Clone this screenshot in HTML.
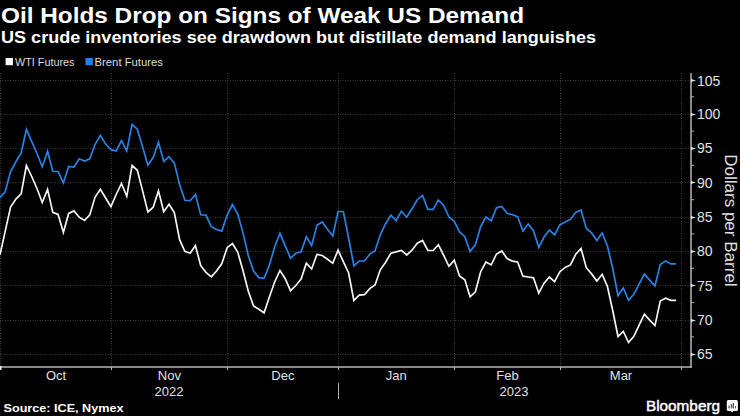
<!DOCTYPE html>
<html><head><meta charset="utf-8">
<style>
html,body{margin:0;padding:0;background:#000;width:740px;height:416px;overflow:hidden}
svg{display:block}
text{font-family:"Liberation Sans",sans-serif}
.t{font-weight:bold;font-size:22.5px;fill:#fff}
.st{font-weight:bold;font-size:17px;fill:#fff}
.lg{font-size:11.5px;fill:#ddd}
.g{stroke:#3c3c3c;stroke-width:1;stroke-dasharray:1 1.5}
.ax{stroke:#b4b4b4;stroke-width:1.5}
.tk{fill:#e0e0e0}
.mt{stroke:#b4b4b4;stroke-width:1}
.yl{font-size:14px;fill:#e0e0e0}
.xl{font-size:13px;fill:#e0e0e0;text-anchor:middle}
.yt{font-size:16px;fill:#e0e0e0;text-anchor:middle}
.s{fill:none;stroke-width:1.7;stroke-linejoin:miter;stroke-linecap:butt}
.w{stroke:#f4f4f4}
.b{stroke:#2a81e2}
.src{font-weight:bold;font-size:11.5px;fill:#fff}
.bb{font-size:15.2px;fill:#fff;stroke:#fff;stroke-width:0.45px}
</style></head><body>
<svg width="740" height="416" viewBox="0 0 740 416">
<text x="1" y="22.8" class="t" textLength="523" lengthAdjust="spacingAndGlyphs">Oil Holds Drop on Signs of Weak US Demand</text>
<text x="1" y="42.6" class="st" textLength="595" lengthAdjust="spacingAndGlyphs">US crude inventories see drawdown but distillate demand languishes</text>
<rect x="5.6" y="58" width="7.3" height="7.2" fill="#fff"/>
<text x="15" y="65.6" class="lg" textLength="59.5" lengthAdjust="spacingAndGlyphs">WTI Futures</text>
<rect x="85.5" y="58" width="7.3" height="7.2" fill="#1f84f0"/>
<text x="94.5" y="65.6" class="lg" textLength="68.5" lengthAdjust="spacingAndGlyphs">Brent Futures</text>
<line x1="0" y1="354.5" x2="691" y2="354.5" class="g"/>
<line x1="0" y1="320.5" x2="691" y2="320.5" class="g"/>
<line x1="0" y1="285.5" x2="691" y2="285.5" class="g"/>
<line x1="0" y1="251.5" x2="691" y2="251.5" class="g"/>
<line x1="0" y1="217.5" x2="691" y2="217.5" class="g"/>
<line x1="0" y1="182.5" x2="691" y2="182.5" class="g"/>
<line x1="0" y1="148.5" x2="691" y2="148.5" class="g"/>
<line x1="0" y1="114.5" x2="691" y2="114.5" class="g"/>
<line x1="0" y1="80.5" x2="691" y2="80.5" class="g"/>
<line x1="0.5" y1="73" x2="0.5" y2="367" class="g"/>
<line x1="111.5" y1="73" x2="111.5" y2="367" class="g"/>
<line x1="227.5" y1="73" x2="227.5" y2="367" class="g"/>
<line x1="338.5" y1="73" x2="338.5" y2="367" class="g"/>
<line x1="454.5" y1="73" x2="454.5" y2="367" class="g"/>
<line x1="560.5" y1="73" x2="560.5" y2="367" class="g"/>
<line x1="681.5" y1="73" x2="681.5" y2="367" class="g"/>
<line x1="691" y1="73" x2="691" y2="367.75" class="ax"/>
<line x1="0" y1="367" x2="691.75" y2="367" class="ax"/>
<path d="M691,352.9 L696,354.5 L691,356.1Z" class="tk"/>
<text x="697" y="359.2" class="yl">65</text>
<path d="M691,318.9 L696,320.5 L691,322.1Z" class="tk"/>
<text x="697" y="324.9" class="yl">70</text>
<path d="M691,283.9 L696,285.5 L691,287.1Z" class="tk"/>
<text x="697" y="290.6" class="yl">75</text>
<path d="M691,249.9 L696,251.5 L691,253.1Z" class="tk"/>
<text x="697" y="256.3" class="yl">80</text>
<path d="M691,215.9 L696,217.5 L691,219.1Z" class="tk"/>
<text x="697" y="222.0" class="yl">85</text>
<path d="M691,180.9 L696,182.5 L691,184.1Z" class="tk"/>
<text x="697" y="187.7" class="yl">90</text>
<path d="M691,146.9 L696,148.5 L691,150.1Z" class="tk"/>
<text x="697" y="153.4" class="yl">95</text>
<path d="M691,112.9 L696,114.5 L691,116.1Z" class="tk"/>
<text x="697" y="119.1" class="yl">100</text>
<path d="M691,78.9 L696,80.5 L691,82.1Z" class="tk"/>
<text x="697" y="86.2" class="yl">105</text>
<line x1="691" y1="336.9" x2="694" y2="336.9" class="mt"/>
<line x1="691" y1="302.6" x2="694" y2="302.6" class="mt"/>
<line x1="691" y1="268.2" x2="694" y2="268.2" class="mt"/>
<line x1="691" y1="233.9" x2="694" y2="233.9" class="mt"/>
<line x1="691" y1="199.7" x2="694" y2="199.7" class="mt"/>
<line x1="691" y1="165.3" x2="694" y2="165.3" class="mt"/>
<line x1="691" y1="131.1" x2="694" y2="131.1" class="mt"/>
<line x1="691" y1="96.8" x2="694" y2="96.8" class="mt"/>
<line x1="111.5" y1="367" x2="111.5" y2="370" class="mt"/>
<line x1="227.5" y1="367" x2="227.5" y2="370" class="mt"/>
<line x1="338.5" y1="367" x2="338.5" y2="370" class="mt"/>
<line x1="454.5" y1="367" x2="454.5" y2="370" class="mt"/>
<line x1="560.5" y1="367" x2="560.5" y2="370" class="mt"/>
<line x1="681.5" y1="367" x2="681.5" y2="370" class="mt"/>
<rect x="0" y="366" width="1.5" height="4" fill="#eee"/>
<text x="56.0" y="380.2" class="xl">Oct</text>
<text x="169.4" y="380.2" class="xl">Nov</text>
<text x="282.9" y="380.2" class="xl">Dec</text>
<text x="396.2" y="380.2" class="xl">Jan</text>
<text x="507.5" y="380.2" class="xl">Feb</text>
<text x="621.0" y="380.2" class="xl">Mar</text>
<text x="169" y="395.6" class="xl">2022</text>
<text x="514" y="395.6" class="xl">2023</text>
<line x1="338.5" y1="383" x2="338.5" y2="399" class="mt" />
<polyline points="0.00,254.7 5.28,230.9 10.56,207.1 15.85,199.1 21.13,193.9 26.41,165.5 31.69,176.5 36.97,188.5 42.26,202.5 47.54,189.4 52.82,212.4 58.10,214.5 63.38,232.5 68.67,213.4 73.95,210.9 79.23,217.2 84.51,220.5 89.79,214.9 95.08,197.0 100.36,189.3 105.64,198.0 110.92,206.7 116.20,194.5 121.49,183.5 126.77,196.3 132.05,165.5 137.33,170.3 142.61,190.9 147.90,212.0 153.18,207.2 158.46,190.9 163.74,211.7 169.02,204.3 174.31,212.5 179.59,239.7 184.87,251.3 190.15,253.2 195.43,245.5 200.72,265.7 206.00,272.3 211.28,276.9 216.56,271.0 221.84,263.5 227.13,247.7 232.41,243.5 237.69,252.0 242.97,270.5 248.25,291.0 253.54,306.0 258.82,309.2 264.10,312.8 269.38,297.1 274.66,282.0 279.95,270.5 285.23,278.7 290.51,290.7 295.79,285.5 301.07,279.0 306.36,263.2 311.64,269.0 316.92,254.5 322.20,255.5 327.48,259.2 332.77,263.2 338.05,250.1 343.33,261.7 348.61,273.0 353.89,300.5 359.18,295.1 364.46,294.7 369.74,288.6 375.02,285.0 380.30,269.8 385.59,262.3 390.87,253.2 396.15,251.9 401.43,250.4 406.71,255.0 412.00,250.2 417.28,243.2 422.56,240.5 427.84,250.5 433.12,250.5 438.41,244.7 443.69,255.3 448.97,266.3 454.25,260.1 459.53,275.9 464.82,279.8 470.10,296.8 475.38,291.8 480.66,271.7 485.94,262.0 491.23,264.9 496.51,254.0 501.79,250.9 507.07,258.6 512.35,261.1 517.64,262.0 522.92,276.2 528.20,277.0 533.48,277.8 538.76,293.2 544.05,283.2 549.33,277.0 554.61,281.7 559.89,271.7 565.17,267.4 570.46,264.9 575.74,254.3 581.02,248.5 586.30,267.7 591.58,273.9 596.87,281.0 602.15,274.3 607.43,286.5 612.71,310.5 617.99,336.5 623.28,331.5 628.56,342.5 633.84,336.4 639.12,325.1 644.40,314.2 649.69,320.1 654.97,325.6 660.25,301.0 665.53,298.2 670.81,300.4 676.10,300.4" class="s w"/>
<polyline points="0.00,197.4 5.28,191.5 10.56,171.5 15.85,161.8 21.13,153.2 26.41,129.2 31.69,141.5 36.97,153.5 42.26,166.7 47.54,151.3 52.82,171.5 58.10,171.5 63.38,182.9 68.67,166.5 73.95,167.0 79.23,158.8 84.51,161.1 89.79,158.8 95.08,144.3 100.36,135.3 105.64,144.0 110.92,149.7 116.20,151.0 121.49,140.7 126.77,150.9 132.05,124.3 137.33,129.2 142.61,147.0 147.90,165.3 153.18,157.6 158.46,142.2 163.74,161.5 169.02,156.7 174.31,163.1 179.59,184.4 184.87,200.3 190.15,200.7 195.43,194.5 200.72,214.8 206.00,215.1 211.28,226.7 216.56,229.5 221.84,231.1 227.13,215.1 232.41,204.5 237.69,214.0 242.97,232.6 248.25,255.5 253.54,271.1 258.82,277.6 264.10,278.3 269.38,265.1 274.66,247.0 279.95,233.3 285.23,245.8 290.51,258.2 295.79,253.3 301.07,251.8 306.36,236.8 311.64,245.5 316.92,225.3 322.20,222.0 327.48,229.2 332.77,236.0 338.05,211.5 343.33,211.5 348.61,238.0 353.89,265.8 359.18,261.0 364.46,261.0 369.74,254.3 375.02,250.8 380.30,234.8 385.59,223.7 390.87,215.1 396.15,220.5 401.43,211.2 406.71,217.2 412.00,208.8 417.28,199.7 422.56,195.5 427.84,209.3 433.12,209.3 438.41,200.1 443.69,205.5 448.97,217.0 454.25,221.3 459.53,232.0 464.82,236.7 470.10,251.5 475.38,244.9 480.66,226.7 485.94,217.0 491.23,220.9 496.51,207.8 501.79,206.5 507.07,213.2 512.35,214.7 517.64,216.7 522.92,231.1 528.20,224.1 533.48,230.7 538.76,247.4 544.05,237.0 549.33,230.1 554.61,234.9 559.89,224.9 565.17,222.0 570.46,219.2 575.74,212.4 581.02,209.9 586.30,228.5 591.58,232.9 596.87,240.5 602.15,232.9 607.43,245.9 612.71,268.5 617.99,295.5 623.28,287.9 628.56,300.3 633.84,294.3 639.12,284.0 644.40,273.9 649.69,280.1 654.97,285.9 660.25,264.6 665.53,260.9 670.81,263.9 676.10,263.9" class="s b"/>
<text transform="translate(725.2,220.4) rotate(90)" class="yt" textLength="132.5" lengthAdjust="spacingAndGlyphs">Dollars per Barrel</text>
<text x="3.5" y="412.2" class="src" textLength="120" lengthAdjust="spacingAndGlyphs">Source: ICE, Nymex</text>
<text x="646" y="411" class="bb" textLength="74" lengthAdjust="spacingAndGlyphs">Bloomberg</text>
<path d="M728.3,400.1 H736.4 Q737.9,400.1 737.9,401.6 V409.4 Q737.9,410.9 736.4,410.9 H733.4 L732.1,412.6 L730.8,410.9 H728.3 Q726.8,410.9 726.8,409.4 V401.6 Q726.8,400.1 728.3,400.1Z" fill="#fff"/>
<rect x="728.4" y="405.6" width="1.3" height="2.8" fill="#555"/>
<rect x="730.8" y="404.2" width="1.3" height="4.2" fill="#555"/>
<rect x="732.7" y="403" width="1.3" height="5.4" fill="#555"/>
<rect x="735" y="405.9" width="1" height="2.5" fill="#666"/>
</svg>
</body></html>
